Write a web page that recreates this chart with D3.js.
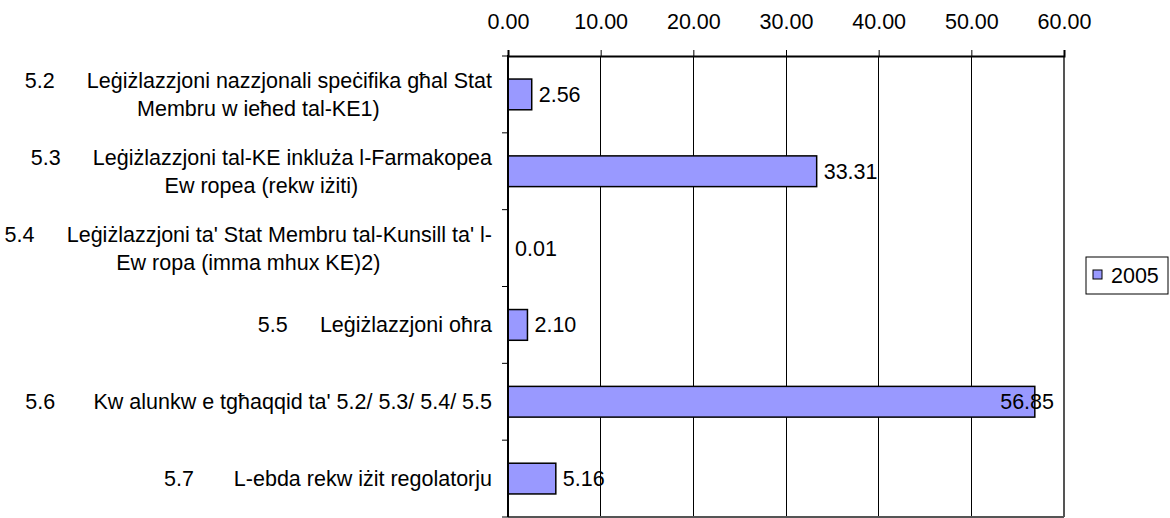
<!DOCTYPE html>
<html>
<head>
<meta charset="utf-8">
<script src="https://cdn.jsdelivr.net/npm/d3@7"></script>
<style>
  body { margin: 0; background: #fff; }
  text { font-family: "Liberation Sans", Arial, sans-serif; fill: #000; }
</style>
</head>
<body>
<svg id="chart" width="1170" height="518"></svg>
<script>
const codes = ["5.2", "5.3", "5.4", "5.5", "5.6", "5.7"];
const labelLines = [
  ["5.2\u2003\u2002Leġiżlazzjoni nazzjonali speċifika għal Stat", "Membru w ieħed tal-KE1)"],
  ["5.3\u2003\u2002Leġiżlazzjoni tal-KE inkluża l-Farmakopea", "Ew ropea (rekw iżiti)"],
  ["5.4\u2003\u2002Leġiżlazzjoni ta' Stat Membru tal-Kunsill ta' l-", "Ew ropa (imma mhux KE)2)"],
  ["5.5\u2003\u2002Leġiżlazzjoni oħra"],
  ["5.6\u2003\u2002 Kw alunkw e tgħaqqid ta'  5.2/ 5.3/ 5.4/ 5.5"],
  ["5.7\u2003\u2002 \u200AL-ebda rekw iżit regolatorju"]
];
const values2005 = [2.56, 33.31, 0.01, 2.10, 56.85, 5.16];
const seriesName = "2005";
const xTicks = [0, 10, 20, 30, 40, 50, 60];

const svg = d3.select("#chart");
const L = 508, R = 1064, T = 56, B = 517;
const FS = 21.5;

const x = d3.scaleLinear().domain([0, 60]).range([L, R]);
const y = d3.scaleBand().domain(codes).range([T, B]).paddingInner(0.6).paddingOuter(0.3);
const yb = d3.scaleBand().domain(codes).range([T, B]);

// gridlines
svg.append("g").selectAll("line").data(xTicks.slice(1, -1)).join("line")
  .attr("x1", d => x(d)).attr("x2", d => x(d)).attr("y1", T).attr("y2", B)
  .attr("stroke", "#000").attr("stroke-width", 1).attr("shape-rendering", "crispEdges");

// right & bottom frame
svg.append("line").attr("x1", R).attr("x2", R).attr("y1", T).attr("y2", B)
  .attr("stroke", "#555").attr("stroke-width", 2);
svg.append("line").attr("x1", L).attr("x2", R).attr("y1", B).attr("y2", B)
  .attr("stroke", "#555").attr("stroke-width", 2);

// bars
svg.append("g").selectAll("rect").data(values2005).join("rect")
  .attr("x", x(0)).attr("y", (d, i) => y(codes[i]))
  .attr("width", d => x(d) - x(0)).attr("height", y.bandwidth())
  .attr("fill", "#9999FF").attr("stroke", "#000").attr("stroke-width", 1.5);

// top axis
const xAxis = d3.axisTop(x).tickValues(xTicks).tickFormat(d3.format(".2f")).tickSize(6).tickPadding(21);
const gx = svg.append("g").attr("transform", `translate(0,${T})`).call(xAxis);
gx.select(".domain").attr("stroke", "#000").attr("stroke-width", 2);
gx.selectAll(".tick line").attr("stroke", "#000");
gx.selectAll("text").attr("font-size", FS).attr("font-family", "Liberation Sans, Arial, sans-serif").attr("fill", "#000");

// left axis (ticks at band boundaries)
const bounds = codes.map(c => yb(c)).concat([B]);
svg.append("g").selectAll("line").data(bounds).join("line")
  .attr("x1", L - 6).attr("x2", L).attr("y1", d => d).attr("y2", d => d)
  .attr("stroke", "#000").attr("stroke-width", 1);
svg.append("line").attr("x1", L).attr("x2", L).attr("y1", T - 1).attr("y2", B)
  .attr("stroke", "#000").attr("stroke-width", 2);

// category labels
const lh = 28;
const cat = svg.append("g");
codes.forEach((c, i) => {
  const lines = labelLines[i];
  const g = cat.append("g");
  const cy = yb(c) + yb.bandwidth() / 2;
  const y0 = cy - (lines.length - 1) * lh / 2;
  const texts = lines.map((t, j) => g.append("text").attr("font-size", FS)
    .attr("y", y0 + j * lh).attr("dy", "0.35em").attr("text-anchor", "middle").text(t));
  const maxW = d3.max(texts, t => t.node().getComputedTextLength());
  texts.forEach(t => t.attr("x", 492 - maxW / 2));
});

// value labels
const vl = svg.append("g");
values2005.forEach((v, i) => {
  const t = vl.append("text").attr("font-size", FS).attr("dy", "0.35em")
    .attr("y", y(codes[i]) + y.bandwidth() / 2).text(d3.format(".2f")(v));
  const w = t.node().getComputedTextLength();
  let xx = x(v) + 7;
  if (xx + w > R - 10) xx = R - 10 - w;
  t.attr("x", xx);
});

// legend
const lg = svg.append("g");
lg.append("rect").attr("x", 1086).attr("y", 257).attr("width", 82).attr("height", 37)
  .attr("fill", "#fff").attr("stroke", "#000").attr("stroke-width", 1);
lg.append("rect").attr("x", 1093).attr("y", 270).attr("width", 9).attr("height", 9)
  .attr("fill", "#9999FF").attr("stroke", "#000").attr("stroke-width", 1);
lg.append("text").attr("x", 1111).attr("y", 275.5).attr("dy", "0.35em").attr("font-size", FS).text(seriesName);
</script>
</body>
</html>
